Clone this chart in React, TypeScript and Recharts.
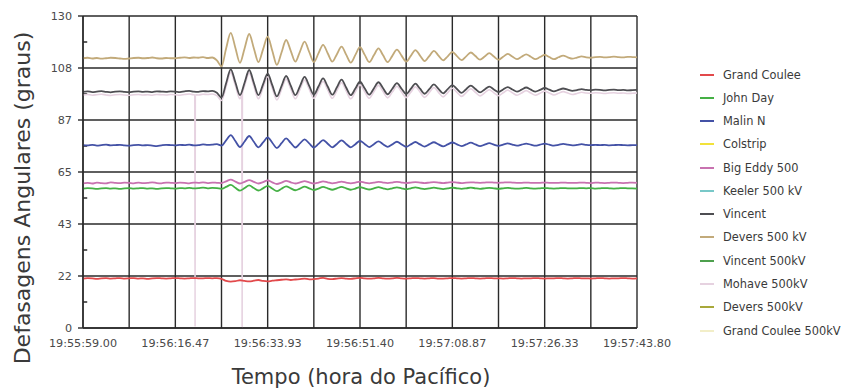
import { LineChart, Line, XAxis, YAxis, CartesianGrid, ReferenceLine } from "recharts";

// sampled every 0.8733 s (a tenth of a grid division), 121 samples from 19:55:59.00
const SAMPLE_STEP = 0.87333;

const GRAND_COULEE = [
  20.6, 20.8, 20.7, 20.5, 20.7, 20.8, 20.6, 20.7, 20.8, 20.6,
  20.7, 20.8, 20.6, 20.7, 20.5, 20.7, 20.8, 20.7, 20.6, 20.7,
  20.8, 20.7, 20.6, 20.7, 20.8, 20.7, 20.7, 20.8, 20.7, 20.8,
  20.5, 19.6, 19.3, 19.5, 19.9, 19.6, 19.4, 19.7, 20.0, 19.6,
  19.4, 19.7, 19.9, 20.1, 20.3, 20.0, 20.2, 20.4, 20.6, 20.3,
  20.4, 20.6, 20.9, 20.5, 20.4, 20.6, 20.8, 20.6, 20.5, 20.7,
  20.9, 20.7, 20.6, 20.7, 20.9, 20.7, 20.6, 20.7, 20.9, 20.7,
  20.6, 20.7, 20.8, 20.7, 20.6, 20.7, 20.8, 20.6, 20.6, 20.7,
  20.8, 20.7, 20.6, 20.7, 20.8, 20.7, 20.6, 20.7, 20.8, 20.7,
  20.7, 20.6, 20.7, 20.8, 20.7, 20.6, 20.7, 20.7, 20.8, 20.7,
  20.6, 20.7, 20.7, 20.8, 20.7, 20.6, 20.7, 20.8, 20.7, 20.7,
  20.6, 20.7, 20.8, 20.7, 20.6, 20.7, 20.7, 20.8, 20.7, 20.6,
  20.7,
];

const JOHN_DAY = [
  58.1, 58.3, 58.2, 58.0, 58.2, 58.3, 58.1, 58.2, 58.0, 58.2,
  58.3, 58.1, 58.2, 58.3, 58.1, 58.2, 58.0, 58.2, 58.3, 58.2,
  58.1, 58.3, 58.2, 58.4, 58.2, 58.3, 58.5, 58.2, 58.4, 58.3,
  58.0, 58.8, 59.6, 58.4, 57.2, 58.3, 59.4, 58.3, 57.3, 58.2,
  59.2, 58.1, 57.0, 58.0, 59.0, 58.2, 57.4, 58.1, 58.9, 58.2,
  57.5, 58.1, 58.8, 58.2, 57.6, 58.2, 58.8, 58.2, 57.6, 58.1,
  58.7, 58.2, 57.7, 58.2, 58.7, 58.2, 57.8, 58.2, 58.6, 58.2,
  57.8, 58.2, 58.6, 58.2, 57.9, 58.2, 58.5, 58.2, 57.9, 58.2,
  58.5, 58.2, 58.0, 58.2, 58.5, 58.2, 58.0, 58.2, 58.4, 58.2,
  58.0, 58.2, 58.4, 58.2, 58.1, 58.2, 58.4, 58.2, 58.1, 58.2,
  58.3, 58.2, 58.1, 58.2, 58.3, 58.2, 58.2, 58.2, 58.3, 58.2,
  58.3, 58.1, 58.2, 58.3, 58.2, 58.1, 58.2, 58.3, 58.2, 58.2,
  58.1,
];

const MALIN_N = [
  76.2, 76.1, 76.3, 76.0, 76.2, 76.4, 76.1, 76.2, 76.3, 76.1,
  76.0, 76.2, 76.3, 76.1, 76.2, 76.0, 75.8, 76.1, 76.3, 76.2,
  76.1, 76.3, 76.2, 76.4, 76.1, 76.2, 76.5, 76.3, 76.4, 76.6,
  76.0, 78.2, 80.4, 77.9, 75.4, 77.7, 80.0, 77.6, 75.3, 77.3,
  79.4, 77.2, 75.0, 77.0, 79.0, 77.1, 75.2, 76.9, 78.6, 76.9,
  75.2, 76.7, 78.3, 76.8, 75.3, 76.7, 78.2, 76.7, 75.3, 76.6,
  78.0, 76.7, 75.4, 76.6, 77.8, 76.6, 75.5, 76.5, 77.6, 76.5,
  75.5, 76.5, 77.5, 76.5, 75.6, 76.5, 77.4, 76.5, 75.7, 76.5,
  77.3, 76.5, 75.8, 76.5, 77.2, 76.5, 75.8, 76.4, 77.0, 76.4,
  75.9, 76.4, 76.9, 76.4, 76.0, 76.4, 76.8, 76.4, 76.0, 76.4,
  76.8, 76.4, 76.0, 76.3, 76.7, 76.4, 76.1, 76.3, 76.6, 76.3,
  76.2, 76.3, 76.2, 76.3, 76.1, 76.2, 76.3, 76.2, 76.1, 76.2,
  76.2,
];

const BIG_EDDY = [
  60.3, 60.5, 60.2, 60.6, 60.4, 60.3, 60.7, 60.5, 60.4, 60.6,
  60.5, 60.3, 60.6, 60.4, 60.5, 60.7, 60.4, 60.3, 60.6, 60.5,
  60.4, 60.6, 60.5, 60.3, 60.6, 60.5, 60.7, 60.4, 60.6, 60.5,
  60.4, 61.1, 61.8, 61.0, 60.2, 60.9, 61.6, 60.9, 60.2, 60.8,
  61.5, 60.7, 60.0, 60.6, 61.3, 60.7, 60.2, 60.7, 61.2, 60.7,
  60.2, 60.6, 61.1, 60.7, 60.3, 60.6, 61.0, 60.6, 60.3, 60.6,
  61.0, 60.6, 60.3, 60.6, 60.9, 60.6, 60.4, 60.6, 60.9, 60.6,
  60.4, 60.6, 60.8, 60.6, 60.4, 60.6, 60.8, 60.6, 60.4, 60.6,
  60.8, 60.6, 60.4, 60.6, 60.7, 60.6, 60.5, 60.6, 60.7, 60.6,
  60.5, 60.6, 60.7, 60.6, 60.5, 60.5, 60.6, 60.5, 60.5, 60.5,
  60.6, 60.5, 60.5, 60.5, 60.6, 60.5, 60.5, 60.5, 60.6, 60.5,
  60.4, 60.6, 60.5, 60.4, 60.5, 60.6, 60.5, 60.4, 60.5, 60.6,
  60.5,
];

const VINCENT = [
  98.4, 98.6, 98.3, 98.5, 98.7, 98.4, 98.2, 98.5, 98.6, 98.4,
  98.3, 98.5, 98.6, 98.4, 98.5, 98.3, 98.6, 98.5, 98.4, 98.6,
  98.5, 98.3, 98.6, 98.8, 98.5, 98.4, 98.7, 98.6, 98.8, 98.0,
  96.0, 102.0, 107.8, 102.4, 97.0, 102.2, 107.5, 102.2, 97.0, 101.5,
  106.0, 101.2, 96.5, 100.8, 105.0, 101.0, 97.0, 100.8, 104.6, 100.9,
  97.2, 100.6, 104.0, 100.6, 97.2, 100.3, 103.5, 100.2, 97.0, 99.8,
  102.6, 99.9, 97.2, 99.8, 102.4, 99.9, 97.4, 99.7, 102.0, 99.7,
  97.5, 99.6, 101.8, 99.7, 97.6, 99.5, 101.5, 99.6, 97.8, 99.5,
  101.2, 99.6, 98.0, 99.5, 101.0, 99.6, 98.2, 99.4, 100.6, 99.4,
  98.3, 99.4, 100.4, 99.4, 98.5, 99.3, 100.2, 99.3, 98.5, 99.2,
  100.0, 99.3, 98.6, 99.2, 99.8, 99.3, 98.8, 99.1, 99.5, 99.2,
  99.1, 99.3, 99.2, 99.0, 99.2, 99.3, 99.1, 99.2, 99.0, 99.1,
  99.2,
];

const DEVERS = [
  112.4, 112.6, 112.3, 112.5, 112.2, 112.4, 112.6, 112.5, 112.3, 112.1,
  112.3, 112.5, 112.6, 112.4, 112.5, 112.7, 112.4, 112.3, 112.5, 112.4,
  112.4, 112.6, 112.8, 112.5, 112.7, 112.6, 112.9, 112.5, 112.7, 111.5,
  109.0, 116.5, 123.0, 116.8, 110.5, 116.5, 122.5, 116.6, 110.8, 116.1,
  121.4, 115.5, 109.6, 114.8, 120.0, 115.5, 111.0, 115.2, 119.3, 115.0,
  110.8, 114.4, 118.0, 114.5, 111.0, 114.1, 117.2, 113.9, 110.6, 113.8,
  117.0, 113.9, 110.8, 113.6, 116.5, 113.6, 110.8, 113.4, 116.0, 113.5,
  111.0, 113.4, 115.8, 113.5, 111.2, 113.3, 115.5, 113.5, 111.5, 113.2,
  115.0, 113.3, 111.6, 113.2, 114.8, 113.3, 111.8, 113.1, 114.5, 113.1,
  111.8, 113.0, 114.2, 113.1, 112.0, 113.0, 114.0, 113.0, 112.0, 112.9,
  113.8, 112.9, 112.0, 112.8, 113.5, 112.8, 112.2, 112.7, 113.2, 112.8,
  112.6, 112.9, 113.0, 112.8, 112.9, 113.1, 112.9, 112.8, 113.0, 112.9,
  112.8,
];

const MOHAVE = [
  97.1, 97.3, 97.0, 97.2, 97.4, 97.1, 96.9, 97.2, 97.3, 97.1,
  97.0, 97.2, 97.3, 97.1, 97.2, 97.0, 97.3, 97.2, 97.1, 97.3,
  97.2, 97.0, 97.3, 97.5, 97.2, 97.1, 97.4, 97.3, 97.5, 96.8,
  94.8, 100.6, 106.5, 101.0, 95.5, 100.8, 106.2, 100.8, 95.5, 100.1,
  104.7, 99.8, 95.0, 99.4, 103.7, 99.6, 95.5, 99.4, 103.3, 99.5,
  95.7, 99.2, 102.7, 99.2, 95.7, 98.9, 102.2, 98.8, 95.5, 98.4,
  101.3, 98.5, 95.7, 98.4, 101.1, 98.5, 95.9, 98.3, 100.7, 98.3,
  96.0, 98.2, 100.5, 98.3, 96.1, 98.1, 100.2, 98.2, 96.3, 98.1,
  99.9, 98.2, 96.5, 98.1, 99.7, 98.2, 96.7, 98.0, 99.3, 98.0,
  96.8, 98.0, 99.1, 98.0, 97.0, 97.9, 98.9, 97.9, 97.0, 97.8,
  98.7, 97.9, 97.1, 97.8, 98.5, 97.9, 97.3, 97.7, 98.2, 97.9,
  97.8, 98.0, 97.9, 97.7, 97.9, 98.0, 97.8, 97.9, 97.7, 97.8,
  97.9,
];

// two short Mohave dropouts (seconds after 19:55:59.00)
const MOHAVE_DROP_TIMES = [21.15, 21.2, 21.25, 30.05, 30.1, 30.15];
const MOHAVE_DROP_VALUES = [97.2, 0.5, 97.2, 97.4, 0.5, 97.6];

const X_GRID_SECONDS = [0, 8.733, 17.467, 26.2, 34.933, 43.667, 52.4, 61.133, 69.867, 78.6, 87.333, 96.067, 104.8];
const X_TICK_LABELS = ["19:55:59.00", "", "19:56:16.47", "", "19:56:33.93", "", "19:56:51.40", "", "19:57:08.87", "", "19:57:26.33", "", "19:57:43.80"];
const Y_TICK_VALUES = [0, 21.667, 43.333, 65, 86.667, 108.333, 130];
const Y_TICK_LABELS = ["0", "22", "43", "65", "87", "108", "130"];
const Y_MINOR_TICKS = [10.833, 32.5, 54.167, 75.833, 97.5, 119.167];

const SERIES = [
  { key: "grandCoulee", name: "Grand Coulee", color: "#e2494b" },
  { key: "johnDay", name: "John Day", color: "#45b045" },
  { key: "malinN", name: "Malin N", color: "#4452a6" },
  { key: "colstrip", name: "Colstrip", color: "#f2e23a" },
  { key: "bigEddy", name: "Big Eddy 500", color: "#c872b0" },
  { key: "keeler", name: "Keeler 500 kV", color: "#78c8c8" },
  { key: "vincent", name: "Vincent", color: "#4e4e52" },
  { key: "devers", name: "Devers 500 kV", color: "#c2aa7a" },
  { key: "vincent500", name: "Vincent 500kV", color: "#4ea04e" },
  { key: "mohave", name: "Mohave 500kV", color: "#e6d2e0" },
  { key: "devers500", name: "Devers 500kV", color: "#a8a83a" },
  { key: "grandCoulee500", name: "Grand Coulee 500kV", color: "#f2eec8" },
];

const DRAW_ORDER = ["mohave", "grandCoulee", "johnDay", "bigEddy", "malinN", "vincent", "devers"];

const rows: Record<string, number>[] = GRAND_COULEE.map((_, i) => ({
  t: i * SAMPLE_STEP,
  grandCoulee: GRAND_COULEE[i],
  johnDay: JOHN_DAY[i],
  malinN: MALIN_N[i],
  bigEddy: BIG_EDDY[i],
  vincent: VINCENT[i],
  devers: DEVERS[i],
  mohave: MOHAVE[i],
}));
MOHAVE_DROP_TIMES.forEach((t, j) => rows.push({ t, mohave: MOHAVE_DROP_VALUES[j] }));
rows.sort((a, b) => a.t - b.t);

const FONT = "'DejaVu Sans', sans-serif";

export default function App() {
  const colorOf = (k: string) => SERIES.find((s) => s.key === k)!.color;
  return (
    <div style={{ position: "relative", width: 843, height: 384, fontFamily: FONT, background: "#fff" }}>
      <LineChart width={843} height={384} data={rows} margin={{ top: 8, right: 214, left: 35, bottom: 34 }}>
        <CartesianGrid stroke="#2a2a2a" strokeWidth={1.4} />
        <XAxis
          dataKey="t"
          type="number"
          domain={[0, 104.8]}
          ticks={X_GRID_SECONDS}
          interval={0}
          tickFormatter={(_v, i) => X_TICK_LABELS[i]}
          tickLine={false}
          tickMargin={5}
          axisLine={{ stroke: "#2a2a2a", strokeWidth: 1.4 }}
          height={30}
          tick={{ fontSize: 11.2, fill: "#4a4a4a", fontFamily: FONT }}
        />
        <YAxis
          type="number"
          domain={[0, 130]}
          ticks={Y_TICK_VALUES}
          interval={0}
          tickFormatter={(_v, i) => Y_TICK_LABELS[i]}
          width={40}
          tickSize={5}
          tickMargin={6}
          tickLine={{ stroke: "#2a2a2a", strokeWidth: 1.4 }}
          axisLine={{ stroke: "#2a2a2a", strokeWidth: 1.4 }}
          tick={{ fontSize: 11.2, fill: "#4a4a4a", fontFamily: FONT }}
        />
        {Y_MINOR_TICKS.map((y) => (
          <ReferenceLine
            key={y}
            segment={[{ x: 0, y }, { x: 0.8, y }]}
            stroke="#2a2a2a"
            strokeWidth={1.5}
          />
        ))}
        {DRAW_ORDER.map((k) => (
          <Line
            key={k}
            dataKey={k}
            type="monotone"
            stroke={colorOf(k)}
            strokeWidth={k === "mohave" ? 1.6 : 1.8}
            dot={false}
            connectNulls
            isAnimationActive={false}
          />
        ))}
      </LineChart>

      <div
        style={{
          position: "absolute",
          left: 14,
          top: 190,
          transform: "translate(-50%, -50%) rotate(-90deg)",
          whiteSpace: "nowrap",
          fontSize: 22,
          color: "#3a3a3a",
        }}
      >
        Defasagens Angulares (graus)
      </div>
      <div
        style={{
          position: "absolute",
          left: 353,
          top: 369,
          transform: "translate(-50%, -50%)",
          whiteSpace: "nowrap",
          fontSize: 21,
          color: "#3a3a3a",
        }}
      >
        Tempo (hora do Pacífico)
      </div>

      <div style={{ position: "absolute", left: 692, top: 55 }}>
        {SERIES.map((s) => (
          <div key={s.key} style={{ display: "flex", alignItems: "center", height: 23.27 }}>
            <div style={{ width: 14, height: 2, background: s.color }} />
            <span style={{ marginLeft: 9, fontSize: 11.4, color: "#3a3a3a", whiteSpace: "nowrap" }}>{s.name}</span>
          </div>
        ))}
      </div>
    </div>
  );
}
